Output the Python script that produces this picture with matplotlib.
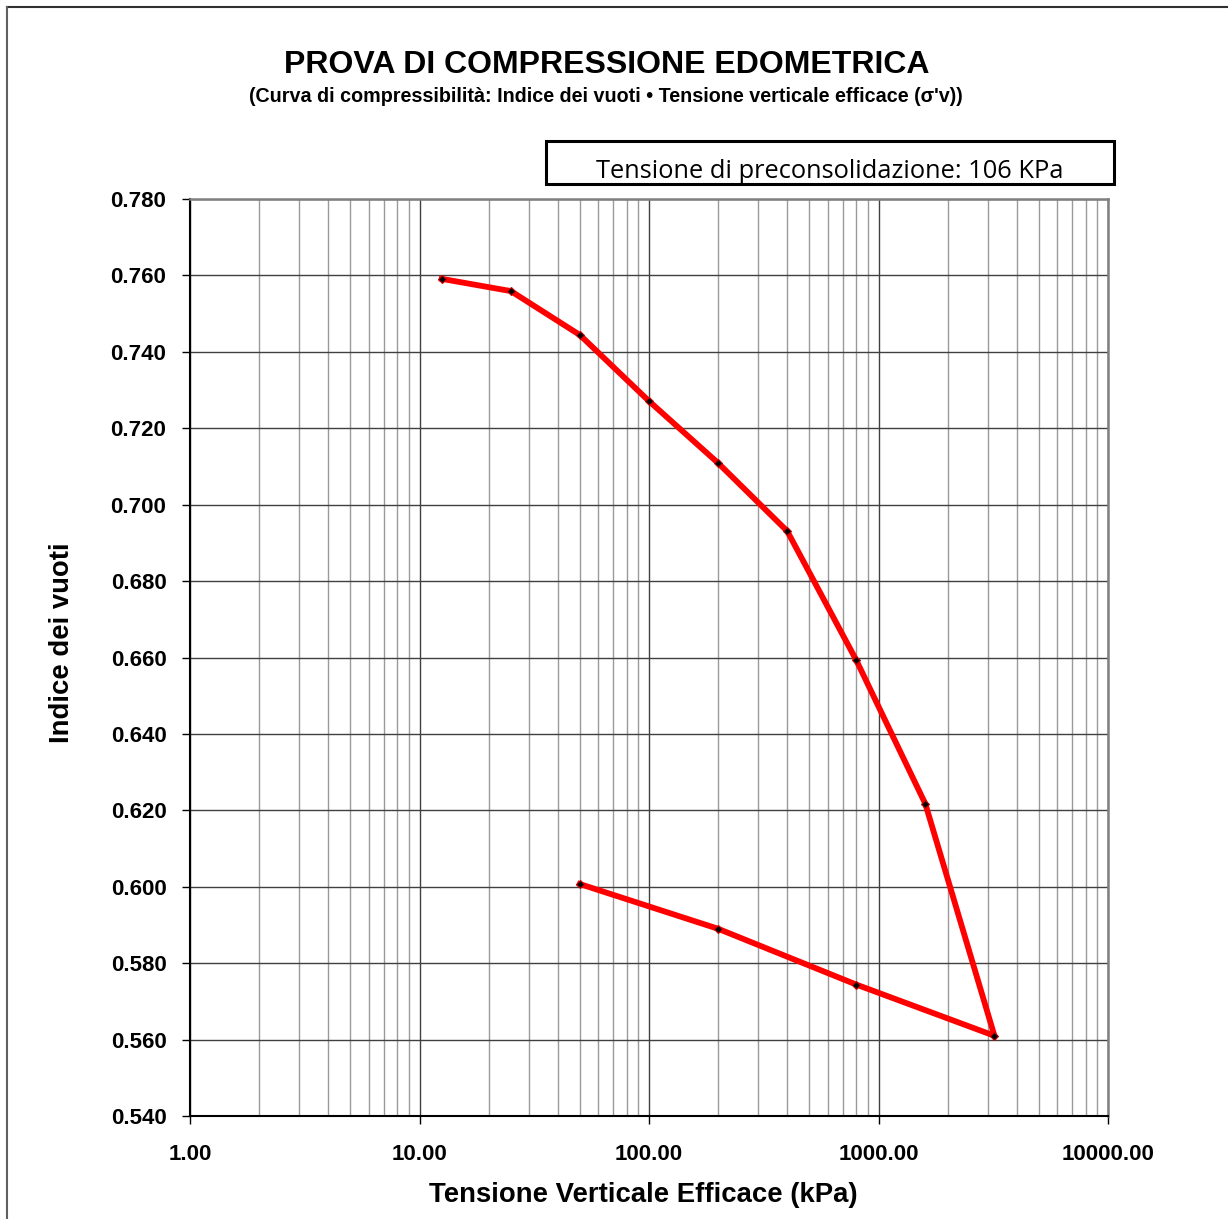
import matplotlib
matplotlib.use("Agg")
import matplotlib.pyplot as plt
from matplotlib.lines import Line2D
from matplotlib.patches import Rectangle
from matplotlib.ticker import FixedLocator, LogLocator, NullFormatter, FuncFormatter
import numpy as np

# Data
stress_kpa = [12.5, 25, 50, 100, 200, 400, 800, 1600, 3200, 800, 200, 50]
void_ratio = [0.7591, 0.7559, 0.7444, 0.7271, 0.7109, 0.6931, 0.6593, 0.6217,
              0.5610, 0.5744, 0.5890, 0.6007]
y_ticks = [0.540, 0.560, 0.580, 0.600, 0.620, 0.640, 0.660, 0.680, 0.700,
           0.720, 0.740, 0.760, 0.780]
x_ticks = [1, 10, 100, 1000, 10000]

title = "PROVA DI COMPRESSIONE EDOMETRICA"
subtitle = "(Curva di compressibilità: Indice dei vuoti • Tensione verticale efficace (σ'v))"
box_text = "Tensione di preconsolidazione: 106 KPa"
xlabel = "Tensione Verticale Efficace (kPa)"
ylabel = "Indice dei vuoti"

plt.rcParams['font.family'] = ['Liberation Sans', 'DejaVu Sans']

fig = plt.figure(figsize=(12.28, 12.19), dpi=100)
ax = fig.add_axes([190/1228, 1 - 1116/1219, (1108-190)/1228, (1116-199)/1219])

ax.set_xscale('log')
ax.set_xlim(1, 10000)
ax.set_ylim(0.540, 0.780)

ax.plot(stress_kpa, void_ratio, color='#ff0000', lw=4.2, solid_joinstyle='round',
        marker='D', markersize=4.5, markerfacecolor='black', markeredgecolor='#cc0000',
        markeredgewidth=0.8, zorder=3)

ax.xaxis.set_major_locator(FixedLocator(x_ticks))
ax.xaxis.set_minor_locator(LogLocator(base=10, subs=np.arange(2, 10)))
ax.xaxis.set_minor_formatter(NullFormatter())
ax.xaxis.set_major_formatter(FuncFormatter(lambda v, p: f"{v:.2f}"))
ax.yaxis.set_major_locator(FixedLocator(y_ticks))
ax.yaxis.set_major_formatter(FuncFormatter(lambda v, p: f"{v:.3f}"))

ax.grid(which='major', axis='x', color='#404040', lw=1.0)
ax.grid(which='minor', axis='x', color='#9a9a9a', lw=1.0)
ax.grid(which='major', axis='y', color='#404040', lw=1.0)
ax.set_axisbelow(True)

ax.tick_params(axis='both', which='major', direction='out', length=6, width=1,
               labelsize=16)
ax.tick_params(axis='x', which='minor', length=0)
for lbl in ax.get_xticklabels() + ax.get_yticklabels():
    lbl.set_fontweight('bold')
ax.tick_params(axis='x', pad=14)
ax.tick_params(axis='y', pad=11)

for s in ['left', 'bottom']:
    ax.spines[s].set_color('black')
    ax.spines[s].set_linewidth(1.5)
for s in ['top', 'right']:
    ax.spines[s].set_color('#808080')
    ax.spines[s].set_linewidth(1.8)

fig.text(643/1228, 1 - 1195/1219, xlabel, ha='center', va='center',
         fontsize=19.8, fontweight='bold')
fig.text(62/1228, 1 - 643/1219, ylabel, ha='center', va='center', rotation=90,
         fontsize=19.8, fontweight='bold')

fig.text(607/1228, 1 - 65/1219, title, ha='center', va='center', fontsize=23,
         fontweight='bold')
fig.text(606/1228, 1 - 97/1219, subtitle, ha='center', va='center', fontsize=14.2,
         fontweight='bold')

# box
fig.patches.append(Rectangle((546/1228, 1 - 184/1219), (1114-546)/1228, (184-141)/1219,
                             transform=fig.transFigure, fill=False, ec='black', lw=2.2))
fig.text(830/1228, 1 - 172/1219, box_text, ha='center', va='center', fontsize=18.3,
         family=['Open Sans', 'DejaVu Sans'])

# outer border (top and left)
fig.lines.append(Line2D([7/1228, 1], [1 - 7/1219, 1 - 7/1219], transform=fig.transFigure,
                        color='#303030', lw=1.5))
fig.lines.append(Line2D([7/1228, 7/1228], [0, 1 - 7/1219], transform=fig.transFigure,
                        color='#606060', lw=1.5))

fig.savefig("out.png", dpi=100)
